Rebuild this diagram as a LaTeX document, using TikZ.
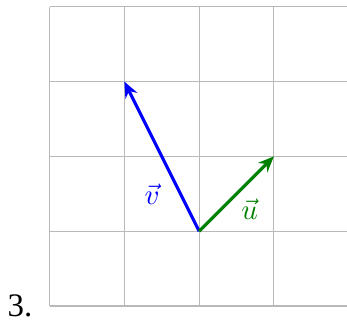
\documentclass[tikz,border=0pt]{standalone}
\usepackage{fontspec}
\newfontfamily\itemfont{Liberation Serif}
\usetikzlibrary{arrows.meta, positioning}

\begin{document}
\begin{tikzpicture}[
  vecarrow/.style={line width=1.2pt, -{Stealth[length=6pt, width=5pt]}},
  veclabel/.style={font=\fontsize{10.5}{12}\selectfont}
]
\useasboundingbox (-0.662,-0.2) rectangle (3.977,4.091);
\draw[gray!55, line width=0.4pt] (0,0) grid (4,4);

\coordinate (O) at (2,1);
\coordinate (V) at (1,3);
\coordinate (U) at (3,2);

\draw[vecarrow, blue] (O) -- node[pos=0.25, left=4pt, veclabel] (vlab) {$\vec{v}$} (V);
\draw[vecarrow, green!50!black] (O) -- node[midway, below right=-3pt, veclabel] (ulab) {$\vec{u}$} (U);

\node[anchor=base, font=\itemfont\fontsize{12.5}{15}\selectfont] (num) at (-0.394,-0.134) {3.};
\end{tikzpicture}
\end{document}
